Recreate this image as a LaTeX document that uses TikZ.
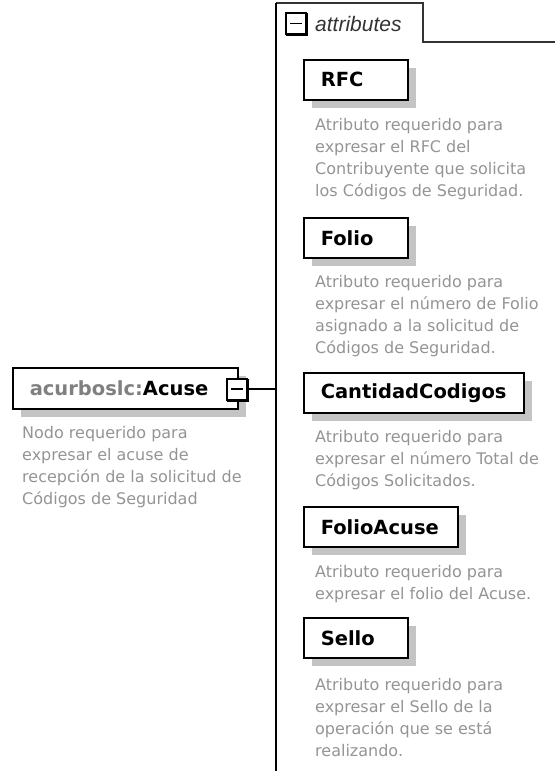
\documentclass[tikz,border=0pt]{standalone}
\usepackage{fontspec}
\setmainfont{DejaVu Sans}
\newfontfamily\tabfont{Liberation Sans}
\usepackage{xcolor}
\definecolor{descgray}{rgb}{0.58,0.58,0.58}
\definecolor{prefixgray}{rgb}{0.5,0.5,0.5}
\definecolor{shadowgray}{rgb}{0.77,0.77,0.77}
\usetikzlibrary{shadows}
\usetikzlibrary{positioning}

\tikzset{
  attrbox/.style={draw=black, line width=1.5pt, fill=white, inner xsep=17pt, inner ysep=0pt,
    minimum height=40pt, align=left, anchor=north west,
    font=\fontsize{19.5}{22}\selectfont\bfseries,
    copy shadow={shadow xshift=8pt, shadow yshift=-8pt, draw=none, fill=shadowgray}},
  desc/.style={anchor=north west, inner sep=0pt, align=left, text=descgray,
    font=\fontsize{16}{22}\selectfont},
  toggle/.style={draw=black, line width=2pt, fill=white, minimum width=20pt,
    minimum height=21pt, inner sep=0pt,
    copy shadow={shadow xshift=1.2pt, shadow yshift=-1.2pt, draw=black, fill=black},
    path picture={\draw[line width=1.4pt] ([xshift=4pt]path picture bounding box.west)
      -- ([xshift=-4pt]path picture bounding box.east);}}
}

\begin{document}
\begin{tikzpicture}[x=1pt, y=-1pt]
\useasboundingbox (0,0) rectangle (555,771);

% attributes tab
  \coordinate (spinetop) at (275.5,3);
  \coordinate (spinebot) at (275.5,771);
  \coordinate (tabcorner) at (423,3);
  \coordinate (tabstep) at (423,42);
  \coordinate (tabend) at (555,42);
  \draw[black!80, line width=1.6pt] (spinetop) -- (tabcorner) -- (tabstep) -- (tabend);
  \draw[black, line width=2pt] (spinebot) -- (spinetop);
  \node[toggle] (attrtoggle) at (296,23.5) {};
  \node[anchor=west, inner sep=0pt, font=\tabfont\itshape\fontsize{21}{24}\selectfont, text=black!80] (attrlabel) at (315,23.5) {attributes};

% Acuse
  \node[attrbox, minimum height=41pt, text width=191pt] (acuse) at (12,367) {{\color{prefixgray}acurboslc:}Acuse};
  \node[toggle] (acusetoggle) at (237,389) {};
  \node[desc] (acusedesc) at (22,426.5) {Nodo requerido para\\expresar el acuse de\\recepción de la solicitud de\\Códigos de Seguridad};
  \draw[line width=1.8pt] (acusetoggle.east) -- (acusetoggle.east -| spinetop);

% RFC
  \node[attrbox, text width=70pt] (rfc) at (303,59) {RFC};
  \node[desc] (rfcdesc) at (315,118.5) {Atributo requerido para\\expresar el RFC del\\Contribuyente que solicita\\los Códigos de Seguridad.};

% Folio
  \node[attrbox, text width=70pt] (folio) at (303,217) {Folio};
  \node[desc] (foliodesc) at (315,275.5) {Atributo requerido para\\expresar el número de Folio\\asignado a la solicitud de\\Códigos de Seguridad.};

% CantidadCodigos
  \node[attrbox, text width=186pt] (cantidad) at (303,372) {CantidadCodigos};
  \node[desc] (cantidaddesc) at (315,430.5) {Atributo requerido para\\expresar el número Total de\\Códigos Solicitados.};

% FolioAcuse
  \node[attrbox, text width=120pt] (folioacuse) at (303,506) {FolioAcuse};
  \node[desc] (folioacusedesc) at (315,565.5) {Atributo requerido para\\expresar el folio del Acuse.};

% Sello
  \node[attrbox, text width=70pt] (sello) at (303,617) {Sello};
  \node[desc] (sellodesc) at (315,678.5) {Atributo requerido para\\expresar el Sello de la\\operación que se está\\realizando.};

\end{tikzpicture}
\end{document}
